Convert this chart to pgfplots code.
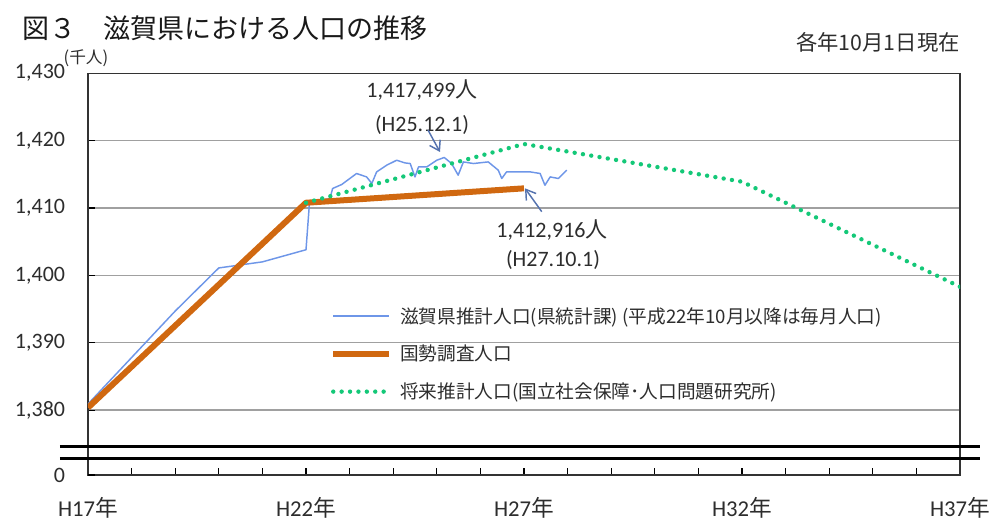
\documentclass[border=0pt]{standalone}
\usepackage{fontspec}
\setmainfont{Carlito}
\newfontfamily\cjk{Noto Sans CJK JP}
\usepackage{pgfplots}
\pgfplotsset{compat=1.18}
\usetikzlibrary{arrows.meta}
\definecolor{cblue}{RGB}{110,150,232}
\definecolor{corange}{RGB}{208,104,16}
\definecolor{cgreen}{RGB}{20,200,120}
\definecolor{cgrid}{RGB}{160,160,160}
\definecolor{ctext}{RGB}{45,45,45}
\definecolor{carrow}{RGB}{85,115,175}
\begin{document}
\begin{tikzpicture}
\useasboundingbox (-66pt,-35.25pt) rectangle (678pt,356.25pt);
\begin{axis}[
  scale only axis, width=654pt, height=301.3pt,
  xmin=0, xmax=20, ymin=1370.36, ymax=1430,
  xtick={0,5,10,15,20},
  xticklabels={H17{\cjk 年},H22{\cjk 年},H27{\cjk 年},H32{\cjk 年},H37{\cjk 年}},
  minor xtick={1,...,19},
  ytick={1380,1390,1400,1410,1420,1430},
  yticklabels={{1,380},{1,390},{1,400},{1,410},{1,420},{1,430}},
  extra y ticks={1370.36}, extra y tick labels={0},
  extra y tick style={grid=none},
  ymajorgrids, grid style={cgrid, line width=0.9pt},
  tick align=inside, tick pos=left,
  major tick length=5pt, minor tick length=5pt,
  tick style={black, line width=0.8pt},
  axis line style={black!80, line width=1pt},
  ticklabel style={font=\fontsize{16.5pt}{18pt}\selectfont, text=ctext},
  yticklabel style={inner sep=0pt, anchor=east, xshift=-17pt},
  xticklabel style={inner sep=0pt, anchor=center, yshift=-24.5pt, font=\fontsize{17pt}{18pt}\selectfont},
  legend style={at={(0.2775,0.418)}, anchor=north west, draw=none, fill=none,
    inner sep=0pt, row sep=15pt,
    nodes={inner sep=0pt, font=\cjk\fontsize{14pt}{16pt}\selectfont, text=ctext},
    /tikz/every odd column/.append style={column sep=6pt}},
  legend cell align=left,
  legend image code/.code={\draw[#1] (0pt,0pt) -- (42pt,0pt);},
]
\addplot[cblue, line width=1.1pt, line join=round] table[row sep=\\]{
x y\\
0 1380.9\\
1 1387.8\\
2 1394.7\\
3 1401.1\\
4 1402.0\\
5 1403.8\\
5.08 1410.78\\
5.55 1411.41\\
5.61 1412.89\\
5.82 1413.49\\
6.16 1415.12\\
6.39 1414.61\\
6.51 1413.64\\
6.62 1415.36\\
6.85 1416.35\\
7.08 1417.09\\
7.27 1416.69\\
7.39 1416.60\\
7.50 1414.61\\
7.58 1416.10\\
7.77 1416.10\\
8.00 1417.09\\
8.17 1417.50\\
8.34 1416.60\\
8.49 1414.87\\
8.61 1416.84\\
8.84 1416.60\\
9.18 1416.84\\
9.41 1415.61\\
9.49 1414.38\\
9.60 1415.36\\
9.91 1415.36\\
10.14 1415.36\\
10.37 1415.12\\
10.48 1413.38\\
10.60 1414.61\\
10.79 1414.38\\
10.98 1415.61\\
};
\addlegendentry{滋賀県推計人口(県統計課) (平成22年10月以降は毎月人口)}
\addplot[corange, line width=4.5pt, line join=round] table[row sep=\\]{
x y\\
0 1380.361\\
5 1410.777\\
10 1412.916\\
};
\addlegendentry{国勢調査人口}
\addplot[cgreen, line width=3.3pt, line cap=round, dash pattern=on 0pt off 6.3pt] table[row sep=\\]{
x y\\
5 1410.777\\
10 1419.5\\
15 1413.9\\
20 1398.3\\
};
\addlegendentry{将来推計人口(国立社会保障･人口問題研究所)}
\end{axis}
% axis break
\draw[black, line width=2.2pt] (-21pt,21.2pt) -- (669pt,21.2pt);
\draw[black, line width=2.2pt] (-21pt,12.5pt) -- (669pt,12.5pt);
% title and notes
\node[anchor=west, inner sep=0pt, text=black!90] at (-49.5pt,335.25pt)
  {\cjk\fontsize{20.25pt}{24pt}\selectfont 図３　滋賀県における人口の推移};
\node[anchor=east, inner sep=0pt, text=ctext] at (654pt,324.75pt)
  {\cjk\fontsize{16pt}{18pt}\selectfont 各年10月1日現在};
\node[inner sep=0pt, text=ctext] at (-1.5pt,312.75pt)
  {\cjk\fontsize{12.5pt}{14pt}\selectfont (千人)};
% annotations
\node[inner sep=0pt, text=ctext] at (250.5pt,288.75pt)
  {\fontsize{16.5pt}{18pt}\selectfont 1,417,499{\cjk 人}};
\node[inner sep=0pt, text=ctext] at (250.5pt,262.5pt)
  {\fontsize{16.5pt}{18pt}\selectfont (H25.12.1)};
\node[inner sep=0pt, text=ctext] at (348pt,183.75pt)
  {\fontsize{16.5pt}{18pt}\selectfont 1,412,916{\cjk 人}};
\node[inner sep=0pt, text=ctext] at (348.75pt,161.25pt)
  {\fontsize{16.5pt}{18pt}\selectfont (H27.10.1)};
\draw[carrow, line width=1.1pt, -{Straight Barb[length=7pt,width=9pt]}] (255pt,258.75pt) -- (264pt,242.25pt);
\draw[carrow, line width=1.1pt, -{Straight Barb[length=7pt,width=9pt]}] (340.3pt,197.5pt) -- (327.75pt,215pt);
\end{tikzpicture}
\end{document}
